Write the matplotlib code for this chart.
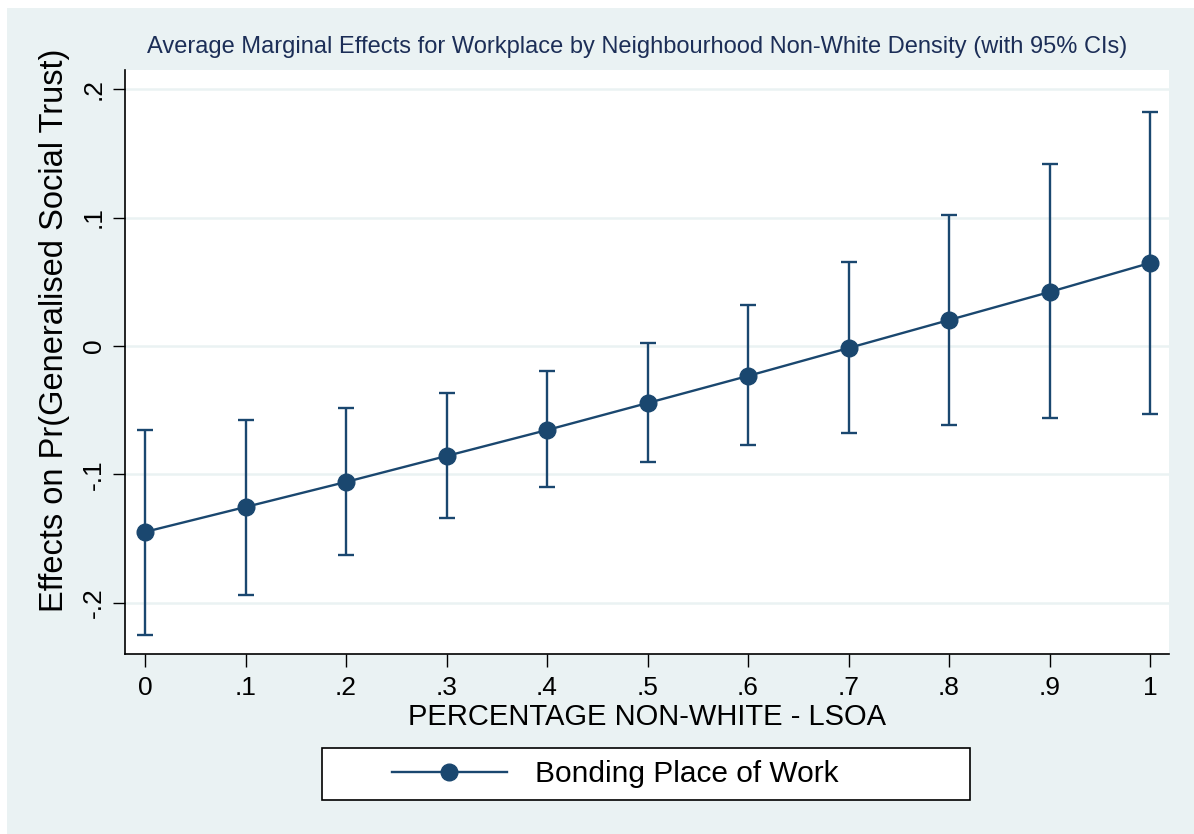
import numpy as np
import matplotlib.pyplot as plt
from matplotlib.patches import Rectangle
from matplotlib.lines import Line2D

plt.rcParams['font.family'] = ['Liberation Sans', 'DejaVu Sans']

# share of non-white residents in the LSOA
pct_nonwhite = [0, .1, .2, .3, .4, .5, .6, .7, .8, .9, 1]
# average marginal effect and 95% CI bounds
ame = [-0.1447, -0.1253, -0.1058, -0.0856, -0.0654, -0.0444,
       -0.0233, -0.0016, 0.0202, 0.0420, 0.0646]
ci_low = [-0.2250, -0.1940, -0.1626, -0.1340, -0.1097, -0.0903,
          -0.0770, -0.0677, -0.0615, -0.0560, -0.0529]
ci_high = [-0.0654, -0.0576, -0.0482, -0.0366, -0.0195, 0.0023,
           0.0319, 0.0654, 0.1020, 0.1416, 0.1820]
xticklabels = ['0', '.1', '.2', '.3', '.4', '.5', '.6', '.7', '.8', '.9', '1']
yticks = [-0.2, -0.1, 0, 0.1, 0.2]
yticklabels = ['-.2', '-.1', '0', '.1', '.2']

navy = '#1a476f'
bg = '#eaf2f3'

W, H = 1194, 834
fig = plt.figure(figsize=(W / 100, H / 100), dpi=100, facecolor='white')
# graph region background
fig.patches.append(Rectangle((7 / W, 0), 1, 1 - 8 / H, transform=fig.transFigure,
                             facecolor=bg, edgecolor='none', zorder=-10))

ax = fig.add_axes([125 / W, 1 - 654 / H, (1169 - 125) / W, (654 - 70) / H])
ax.set_facecolor('white')

x = np.array(pct_nonwhite)
y = np.array(ame)
lo = np.array(ci_low)
hi = np.array(ci_high)
ax.errorbar(x, y, yerr=[y - lo, hi - y], fmt='none', ecolor=navy,
            elinewidth=1.7, capsize=5.8, capthick=1.7, zorder=3)
ax.plot(x, y, color=navy, lw=1.7, marker='o', ms=12, zorder=4)

ax.set_xlim(-0.0199, 1.0189)
ax.set_ylim(-0.2397, 0.2148)
ax.set_xticks(pct_nonwhite)
ax.set_xticklabels(xticklabels)
ax.set_yticks(yticks)
ax.set_yticklabels(yticklabels, rotation=90, va='center')
ax.yaxis.grid(True, color=bg, lw=1.8)
ax.set_axisbelow(True)
ax.tick_params(axis='both', length=9, width=1.0, color='black', labelsize=19)
ax.tick_params(axis='x', pad=7)
ax.tick_params(axis='y', pad=5)
for s in ['top', 'right']:
    ax.spines[s].set_visible(False)
for s in ['left', 'bottom']:
    ax.spines[s].set_linewidth(1.2)

ax.set_xlabel('PERCENTAGE NON-WHITE - LSOA', fontsize=21)
ax.xaxis.set_label_coords(0.5, -(717 - 654) / 584, transform=ax.transAxes)
ax.xaxis.label.set_va('center')
ax.set_ylabel('Effects on Pr(Generalised Social Trust)', fontsize=23.5)
ax.yaxis.set_label_coords(-(125 - 55) / 1044, (654 - 330) / 584, transform=ax.transAxes)
ax.yaxis.label.set_va('center')
fig.text(637 / W, 1 - 47 / H,
         'Average Marginal Effects for Workplace by Neighbourhood Non-White Density (with 95% CIs)',
         ha='center', va='center', fontsize=17, color='#1c2e57')

# legend box
fig.patches.append(Rectangle((322 / W, 1 - 800 / H), (970 - 322) / W, 52 / H,
                             transform=fig.transFigure, facecolor='white',
                             edgecolor='black', lw=1.2, zorder=1))
handle = Line2D([], [], color=navy, lw=1.7, marker='o', ms=12)
fig.legend([handle], ['Bonding Place of Work'], loc='center',
           bbox_to_anchor=(615 / W, 1 - 774 / H), frameon=False,
           fontsize=21.5, handlelength=3.85, handletextpad=0.94)

fig.savefig('out.png', dpi=100, facecolor=fig.get_facecolor())
